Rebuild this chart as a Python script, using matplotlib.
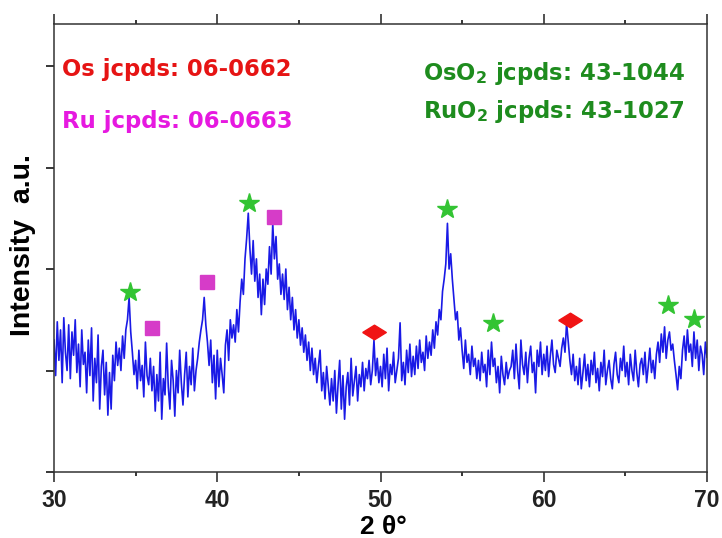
import numpy as np
import matplotlib
matplotlib.use("Agg")
import matplotlib.pyplot as plt
from matplotlib.ticker import MultipleLocator

plt.rcParams['font.family'] = ['Liberation Sans', 'DejaVu Sans']
plt.rcParams['font.weight'] = 'bold'

# XRD pattern, 0.1 degree steps from 30.0 to 70.0
two_theta = np.round(np.arange(30.0, 70.05, 0.1), 1)
intensity = [
    130, 95, 148, 110, 140, 88, 152, 118, 100, 145,   # 30
    92, 138, 115, 150, 98, 126, 84, 140, 106, 118,    # 31
    78, 130, 95, 142, 70, 112, 88, 135, 62, 104,      # 32
    120, 76, 108, 56, 98, 62, 115, 90, 128, 105,      # 33
    122, 100, 134, 112, 140, 150, 172, 138, 118, 96,  # 34
    110, 82, 120, 90, 105, 74, 128, 95, 86, 112,      # 35
    80, 104, 60, 96, 70, 118, 52, 92, 76, 127,        # 36
    84, 62, 110, 90, 55, 100, 78, 120, 88, 66,        # 37
    96, 118, 74, 104, 86, 122, 80, 100, 112, 128,     # 38
    140, 150, 172, 145, 128, 105, 130, 88, 115, 72,   # 39
    120, 84, 112, 96, 78, 125, 140, 110, 150, 132,    # 40
    145, 128, 160, 138, 168, 190, 175, 210, 230, 255, # 41
    220, 195, 228, 188, 210, 172, 195, 155, 190, 165, # 42
    200, 185, 222, 195, 245, 210, 232, 190, 205, 175, # 43
    195, 170, 200, 160, 182, 150, 172, 140, 160, 132, # 44
    150, 125, 142, 118, 135, 110, 128, 100, 122, 96,  # 45
    112, 88, 105, 120, 80, 98, 72, 104, 85, 66,       # 46
    92, 70, 100, 58, 86, 110, 62, 95, 52, 84,         # 47
    98, 66, 112, 75, 90, 104, 70, 96, 84, 108,        # 48
    80, 102, 92, 110, 86, 100, 130, 95, 112, 88,      # 49
    104, 84, 116, 92, 122, 80, 106, 96, 118, 88,      # 50
    100, 112, 147, 90, 108, 86, 120, 98, 126, 94,     # 51
    114, 96, 124, 102, 130, 108, 118, 100, 134, 112,  # 52
    128, 115, 140, 122, 148, 135, 160, 150, 178, 190, # 53
    205, 245, 200, 215, 190, 170, 150, 158, 130, 142, # 54
    120, 102, 130, 108, 116, 96, 124, 104, 112, 92,   # 55
    110, 90, 118, 98, 106, 84, 120, 96, 128, 104,     # 56
    112, 88, 104, 78, 114, 96, 86, 108, 92, 100,      # 57
    104, 120, 92, 126, 100, 82, 130, 106, 96, 118,    # 58
    88, 112, 124, 98, 108, 78, 120, 104, 128, 96,     # 59
    116, 100, 124, 94, 114, 130, 106, 98, 120, 112,   # 60
    104, 122, 132, 118, 147, 128, 110, 96, 116, 90,   # 61
    104, 86, 112, 82, 98, 116, 90, 106, 84, 110,      # 62
    96, 118, 88, 102, 80, 108, 94, 120, 86, 100,      # 63
    110, 92, 82, 106, 118, 96, 88, 112, 100, 124,     # 64
    94, 108, 86, 116, 100, 90, 120, 98, 84, 106,      # 65
    112, 96, 118, 88, 104, 122, 98, 110, 92, 116,     # 66
    128, 108, 136, 118, 143, 112, 130, 138, 120, 126, # 67
    110, 96, 81, 104, 92, 120, 134, 110, 140, 118,    # 68
    126, 104, 138, 112, 130, 100, 124, 116, 96, 128,  # 69
    113,                                              # 70
]

# phase markers (position, height)
oxide_x = [34.65, 41.92, 54.05, 56.92, 67.6, 69.2]
oxide_y = [177, 265, 259, 147, 165, 151]
ru_x = [36.0, 39.38, 43.47]
ru_y = [142, 187, 251]
os_x = [49.6, 61.6]
os_y = [138, 150]

fig = plt.figure(figsize=(7.22, 5.38), dpi=100)
ax = fig.add_axes([54 / 722, 66 / 538, 653 / 722, 448 / 538])

ax.plot(two_theta, intensity, color='#1a1ae6', lw=1.2)

diamond = [(-1, 0), (0, 0.62), (1, 0), (0, -0.62), (-1, 0)]
ax.plot(oxide_x, oxide_y, ls='none', marker='*', ms=15, color='#33c433')
ax.plot(ru_x, ru_y, ls='none', marker='s', ms=10, color='#d63cc8')
ax.plot(os_x, os_y, ls='none', marker=diamond, ms=17, color='#f01414')

ax.set_xlim(30, 70)
ax.set_ylim(0, 441.4)
ax.xaxis.set_major_locator(MultipleLocator(10))
ax.xaxis.set_minor_locator(MultipleLocator(5))
ax.set_yticks([0, 100, 200, 300, 400])
ax.set_yticklabels([])

ax.tick_params(axis='x', which='major', direction='out', length=7, width=1.1,
               top=True, labelsize=16.5, pad=5, colors='#222222')
ax.tick_params(axis='x', which='minor', direction='out', length=3, width=1.1,
               top=True)
ax.tick_params(axis='y', direction='out', length=6, width=1.1, right=False)
for lab in ax.get_xticklabels():
    lab.set_fontweight('bold')
for s in ax.spines.values():
    s.set_linewidth(1.1)
    s.set_color('#333333')

# axis titles placed in figure pixels to keep them inside the canvas
fig.text(383 / 722, 1 - 534 / 538, '2 θ°', fontsize=19, fontweight='bold',
         ha='center', va='baseline')
fig.text(23 / 722, 1 - 245 / 538, 'Intensity  a.u.', fontsize=20.5,
         fontweight='bold', rotation=90, ha='center', va='center')

note_font = ['DejaVu Sans']
fig.text(62 / 722, 1 - 76 / 538, 'Os jcpds: 06-0662', color='#e61414',
         fontsize=16.4, fontweight='bold', va='baseline', family=note_font)
fig.text(62 / 722, 1 - 128 / 538, 'Ru jcpds: 06-0663', color='#e619e0',
         fontsize=16.4, fontweight='bold', va='baseline', family=note_font)
fig.text(685 / 722, 1 - 80 / 538, r'OsO$_\mathbf{2}$ jcpds: 43-1044', color='#1e8c1e',
         fontsize=16.4, fontweight='bold', va='baseline', ha='right', family=note_font)
fig.text(685 / 722, 1 - 118 / 538, r'RuO$_\mathbf{2}$ jcpds: 43-1027', color='#1e8c1e',
         fontsize=16.4, fontweight='bold', va='baseline', ha='right', family=note_font)

fig.savefig('out.png', dpi=100)
